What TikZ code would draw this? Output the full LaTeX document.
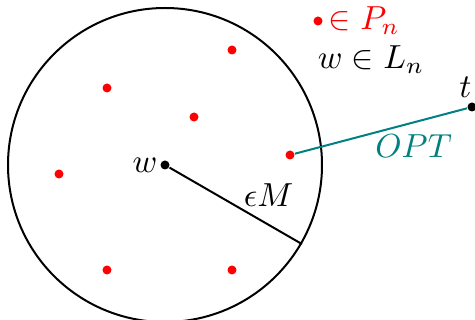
\documentclass[tikz,border=0pt]{standalone}
\usepackage{amsmath,amssymb}
\usepackage{xcolor}
\usetikzlibrary{positioning}

\begin{document}
\begin{tikzpicture}[
    x=0.3pt, y=-0.3pt,
    reddot/.style={circle, fill=red, inner sep=0pt, minimum size=2.7pt},
    blackdot/.style={circle, fill=black, inner sep=0pt, minimum size=2.7pt}
]
    \useasboundingbox (0,0) rectangle (475,320);

    % ball of radius eps M around w
    \node[blackdot, label={[inner sep=0.5pt]left:$w$}] (w) at (165,165) {};
    \node[circle, draw, line width=0.6pt, minimum size=94.2pt, inner sep=0pt] (ball) at (w) {};
    \draw[line width=0.6pt] (w) -- node[pos=0.75, above=2pt] {$\epsilon M$} (ball.-30);

    % points of P_n
    \node[reddot] (p1) at (232,50) {};
    \node[reddot] (p2) at (107,88) {};
    \node[reddot] (p3) at (194,117) {};
    \node[reddot] (p4) at (290,155) {};
    \node[reddot] (p5) at (59,174) {};
    \node[reddot] (p6) at (107,270) {};
    \node[reddot] (p7) at (232,270) {};

    % target and optimal path
    \node[blackdot, label={[inner sep=1pt, xshift=-2pt]above:$t$}] (t) at (472,107) {};
    \draw[teal, line width=0.6pt] (p4) -- node[pos=0.69, below] {$OPT$} (t);

    % legend
    \node[reddot, label={[red, inner sep=1.5pt]right:$\in P_n$}] (legend-p) at (318,21) {};
    \node (legend-l) at (371,60) {$w\in L_n$};
\end{tikzpicture}
\end{document}
